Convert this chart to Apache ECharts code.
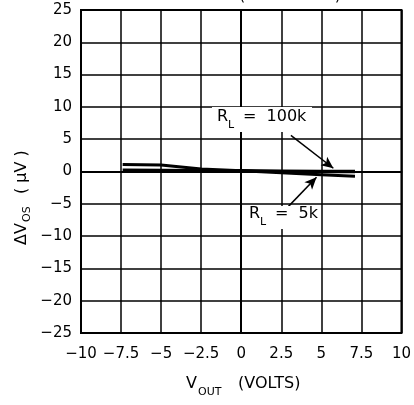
<!DOCTYPE html>
<html lang="en">
<head>
    <meta charset="utf-8">
    <title>dVos vs Vout</title>
    <script src="https://cdn.jsdelivr.net/npm/echarts@6/dist/echarts.min.js"></script>
    <style>
        html, body {margin: 0; padding: 0; background: #fff;}
    </style>
</head>
<body>
<div id="chart" style="width: 414px;height:405px;"></div>
<script type="application/javascript">
    // 数据
    var xTicks = [-10, -7.5, -5, -2.5, 0, 2.5, 5, 7.5, 10];
    var yTicks = [-25, -20, -15, -10, -5, 0, 5, 10, 15, 20, 25];
    var vout = [-7.4, -5, -2.5, 0, 2.5, 5, 7.1];
    var rl5k = [1.1, 1.0, 0.4, 0.1, -0.2, -0.5, -0.75];
    var rl100k = [0.2, 0.15, 0.1, 0.1, 0.05, 0.0, 0.0];
    // 箭头 [起点, 终点]
    var arrow100k = [[3.1, 5.6], [5.75, 0.5]];
    var arrow5k = [[2.95, -5.4], [4.7, -0.9]];

    var font = 'DejaVu Sans, sans-serif';

    function pairs(xs, ys) {
        var out = [];
        for (var i = 0; i < xs.length; i++) out.push([xs[i], ys[i]]);
        return out;
    }

    function fmt(v) {
        return String(v).replace('-', '\u2212');
    }

    function arrowLine(a) {
        return [{coord: a[0], symbol: 'none'}, {coord: a[1], symbol: 'arrow', symbolSize: [8, 12]}];
    }

    var chart = echarts.init(document.getElementById('chart'));

    var option = {
        animation: false,
        grid: {left: 81, right: 10, top: 10, bottom: 72, show: true, borderColor: '#000', borderWidth: 2},
        xAxis: {
            type: 'value', min: xTicks[0], max: xTicks[xTicks.length - 1], interval: 2.5,
            axisLine: {lineStyle: {color: '#000', width: 2}},
            axisTick: {show: false},
            splitLine: {lineStyle: {color: '#000', width: 1.5}},
            axisLabel: {color: '#000', fontFamily: font, fontSize: 15, margin: 14, formatter: fmt}
        },
        yAxis: {
            type: 'value', min: yTicks[0], max: yTicks[yTicks.length - 1], interval: 5,
            axisLine: {lineStyle: {color: '#000', width: 2}},
            axisTick: {show: false},
            splitLine: {lineStyle: {color: '#000', width: 1.5}},
            axisLabel: {color: '#000', fontFamily: font, fontSize: 15, margin: 9, formatter: fmt}
        },
        series: [
            {
                name: 'RL = 5k', type: 'line', data: pairs(vout, rl5k),
                showSymbol: false, lineStyle: {color: '#000', width: 3}
            },
            {
                name: 'RL = 100k', type: 'line', data: pairs(vout, rl100k),
                showSymbol: false, lineStyle: {color: '#000', width: 3.5},
                markLine: {
                    silent: true, symbol: 'none', label: {show: false},
                    lineStyle: {color: '#000', width: 1.5, type: 'solid'},
                    data: [arrowLine(arrow100k), arrowLine(arrow5k)]
                }
            }
        ],
        graphic: [
            // 注释
            {type: 'rect', shape: {x: 212, y: 107, width: 100, height: 25}, style: {fill: '#fff'}, z: 50},
            {type: 'text', x: 217, y: 125, z: 51, style: {text: 'R', font: '16px ' + font, fill: '#000', verticalAlign: 'bottom'}},
            {type: 'text', x: 228, y: 131, z: 51, style: {text: 'L', font: '11px ' + font, fill: '#000', verticalAlign: 'bottom'}},
            {type: 'text', x: 243, y: 125, z: 51, style: {text: '=  100k', font: '16px ' + font, fill: '#000', verticalAlign: 'bottom'}},
            {type: 'rect', shape: {x: 245, y: 206, width: 75, height: 23}, style: {fill: '#fff'}, z: 50},
            {type: 'text', x: 249, y: 222, z: 51, style: {text: 'R', font: '16px ' + font, fill: '#000', verticalAlign: 'bottom'}},
            {type: 'text', x: 260, y: 228, z: 51, style: {text: 'L', font: '11px ' + font, fill: '#000', verticalAlign: 'bottom'}},
            {type: 'text', x: 275, y: 222, z: 51, style: {text: '=  5k', font: '16px ' + font, fill: '#000', verticalAlign: 'bottom'}},
            // 上方被裁切的标题
            {type: 'text', x: 290, y: 4, style: {text: '(V   = \u00b115V)', font: '16px ' + font, fill: '#000', align: 'center', verticalAlign: 'bottom'}},
            // X 轴名称
            {type: 'text', x: 186, y: 392, style: {text: 'V', font: '16px ' + font, fill: '#000', verticalAlign: 'bottom'}},
            {type: 'text', x: 198, y: 398, style: {text: 'OUT', font: '11px ' + font, fill: '#000', verticalAlign: 'bottom'}},
            {type: 'text', x: 238, y: 392, style: {text: '(VOLTS)', font: '16px ' + font, fill: '#000', verticalAlign: 'bottom'}},
            // Y 轴名称
            {
                type: 'group', x: 22, y: 186, rotation: Math.PI / 2,
                children: [
                    {type: 'text', x: -59, y: 0, style: {text: '\u0394V', font: '16px ' + font, fill: '#000', verticalAlign: 'middle'}},
                    {type: 'text', x: -36, y: 5, style: {text: 'OS', font: '11px ' + font, fill: '#000', verticalAlign: 'middle'}},
                    {type: 'text', x: -8, y: 0, style: {text: '( \u00b5V )', font: '16px ' + font, fill: '#000', verticalAlign: 'middle'}}
                ]
            }
        ]
    };

    chart.setOption(option);
</script>
</body>
</html>
